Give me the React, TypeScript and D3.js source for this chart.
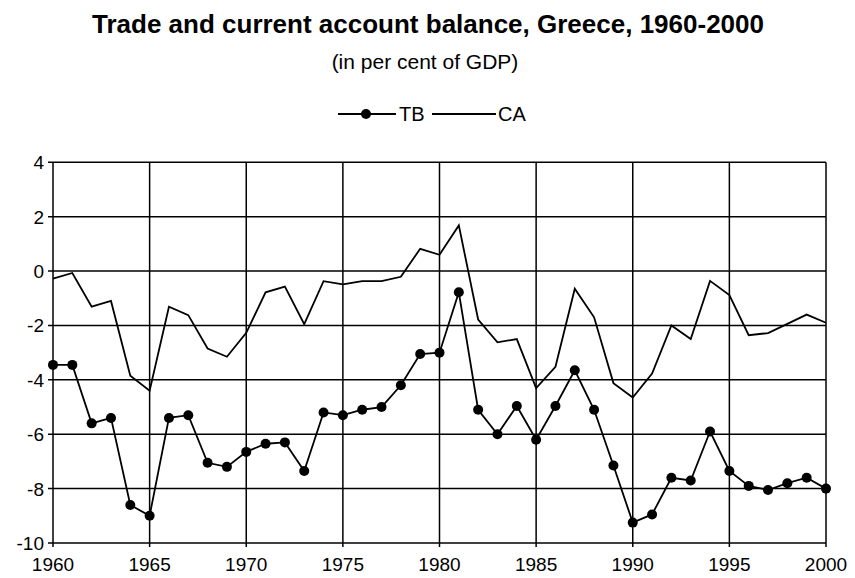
import * as d3 from 'd3';
import React from 'react';

// years on the x axis
const years: number[] = d3.range(1960, 2001);

// trade balance, per cent of GDP
const tb: number[] = [
  -3.45, -3.45, -5.6, -5.4, -8.6, -9.0, -5.4, -5.3, -7.05, -7.2,
  -6.65, -6.35, -6.3, -7.35, -5.2, -5.3, -5.1, -5.0, -4.2, -3.05,
  -3.0, -0.78, -5.1, -6.0, -4.96, -6.2, -4.96, -3.65, -5.1, -7.15,
  -9.25, -8.95, -7.6, -7.7, -5.9, -7.35, -7.9, -8.05, -7.8, -7.6,
  -8.0,
];

// current account balance, per cent of GDP
const ca: number[] = [
  -0.28, -0.07, -1.31, -1.1, -3.85, -4.4, -1.31, -1.62, -2.85, -3.15,
  -2.27, -0.78, -0.57, -1.95, -0.37, -0.49, -0.37, -0.37, -0.21, 0.82,
  0.6, 1.68, -1.78, -2.62, -2.5, -4.3, -3.52, -0.65, -1.7, -4.12,
  -4.65, -3.77, -2.0, -2.5, -0.36, -0.88, -2.36, -2.28, -1.94, -1.6,
  -1.9,
];

const xTicks: number[] = [1960, 1965, 1970, 1975, 1980, 1985, 1990, 1995, 2000];
const yTicks: number[] = [4, 2, 0, -2, -4, -6, -8, -10];

const W = 855;
const H = 578;
const font = 'Arial, "Liberation Sans", sans-serif';

export default function App() {
  const x = d3.scaleLinear().domain([1960, 2000]).range([53, 826]);
  const y = d3.scaleLinear().domain([-10, 4]).range([543, 162.3]);

  const line = d3.line<number>()
    .x((_, i) => x(years[i]))
    .y((d) => y(d));

  const legY = 114;

  return (
    <svg width={W} height={H} style={{ position: 'absolute', left: 0, top: 0, background: '#fff' }}>
      <text x={428} y={33} textAnchor="middle" fontFamily={font} fontWeight="bold" fontSize={26}>
        Trade and current account balance, Greece, 1960-2000
      </text>
      <text x={425} y={69} textAnchor="middle" fontFamily={font} fontSize={21}>
        (in per cent of GDP)
      </text>

      {/* legend */}
      <g fontFamily={font} fontSize={20}>
        <line x1={338} x2={396} y1={legY} y2={legY} stroke="#000" strokeWidth={2} />
        <circle cx={366} cy={legY} r={5} fill="#000" />
        <text x={399} y={legY + 7}>TB</text>
        <line x1={432} x2={496} y1={legY} y2={legY} stroke="#000" strokeWidth={2} />
        <text x={498} y={legY + 7}>CA</text>
      </g>

      {/* grid */}
      <g stroke="#000" strokeWidth={1.5}>
        {yTicks.map((t) => (
          <line key={'h' + t} x1={x(1960) - 5} x2={x(2000)} y1={y(t)} y2={y(t)} />
        ))}
        {xTicks.map((t) => (
          <line key={'v' + t} x1={x(t)} x2={x(t)} y1={y(4)} y2={y(-10) + 4} />
        ))}
      </g>

      <g fontFamily={font} fontSize={19} textAnchor="end">
        {yTicks.map((t) => (
          <text key={'yl' + t} x={x(1960) - 9} y={y(t) + 7}>{t}</text>
        ))}
      </g>
      <g fontFamily={font} fontSize={19} textAnchor="middle">
        {xTicks.map((t) => (
          <text key={'xl' + t} x={x(t)} y={571}>{t}</text>
        ))}
      </g>

      {/* series */}
      <path d={line(ca) || ''} fill="none" stroke="#000" strokeWidth={1.8} />
      <path d={line(tb) || ''} fill="none" stroke="#000" strokeWidth={1.8} />
      {tb.map((v, i) => (
        <circle key={'p' + i} cx={x(years[i])} cy={y(v)} r={5} fill="#000" />
      ))}
    </svg>
  );
}
